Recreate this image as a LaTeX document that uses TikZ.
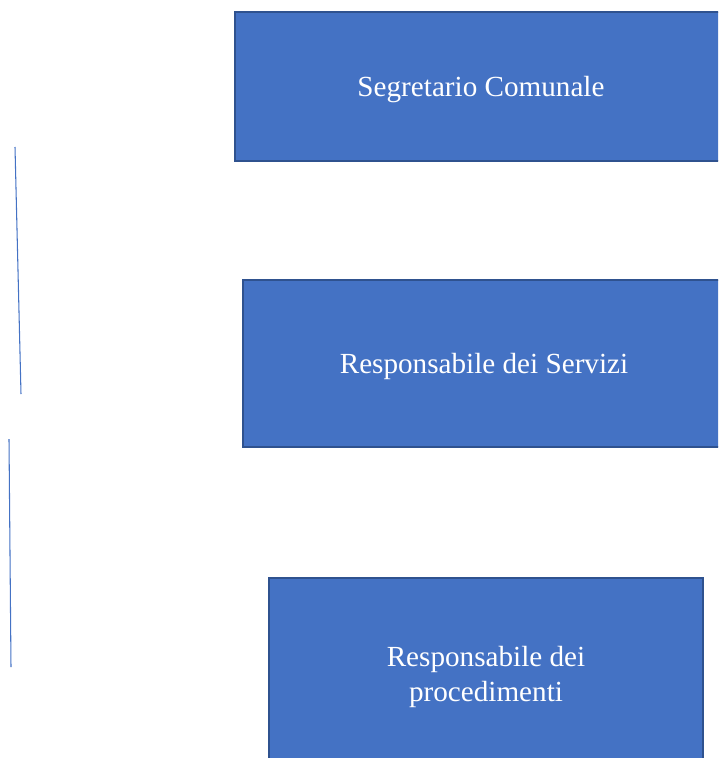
\documentclass[tikz,border=0pt]{standalone}
\usepackage{fontspec}
\setmainfont{Liberation Serif}
\definecolor{boxfill}{HTML}{4472C4}
\definecolor{boxline}{HTML}{2F528F}
\tikzset{
	ruolo/.style={draw=boxline, line width=1.1pt, fill=boxfill, text=white, align=center,
		font=\fontsize{16.6}{20}\selectfont, inner sep=0pt},
	barra/.style={draw=boxfill, line width=0.6pt}
}
\begin{document}
\begin{tikzpicture}[x=0.02cm, y=-0.02cm]
		\useasboundingbox (0, 0) rectangle (718, 758);
		\clip (0, 0) rectangle (718, 758);
		%boxes
		\node[ruolo, text depth=0pt, minimum width=9.84cm, minimum height=2.98cm] (segretario) at (481, 86.5) {Segretario Comunale};
		\node[ruolo, text depth=0pt, minimum width=9.64cm, minimum height=3.34cm] (servizi) at (484, 363.5) {Responsabile dei Servizi};
		\node[ruolo, minimum width=8.68cm, minimum height=3.96cm] (procedimenti) at (486, 677) {Responsabile dei\\procedimenti};
		%left lines
		\coordinate (a1) at (15, 147);
		\coordinate (a2) at (21, 394);
		\coordinate (b1) at (9, 439);
		\coordinate (b2) at (11, 667);
		\draw[barra] (a1) -- (a2);
		\draw[barra] (b1) -- (b2);
		\end{tikzpicture}
\end{document}
